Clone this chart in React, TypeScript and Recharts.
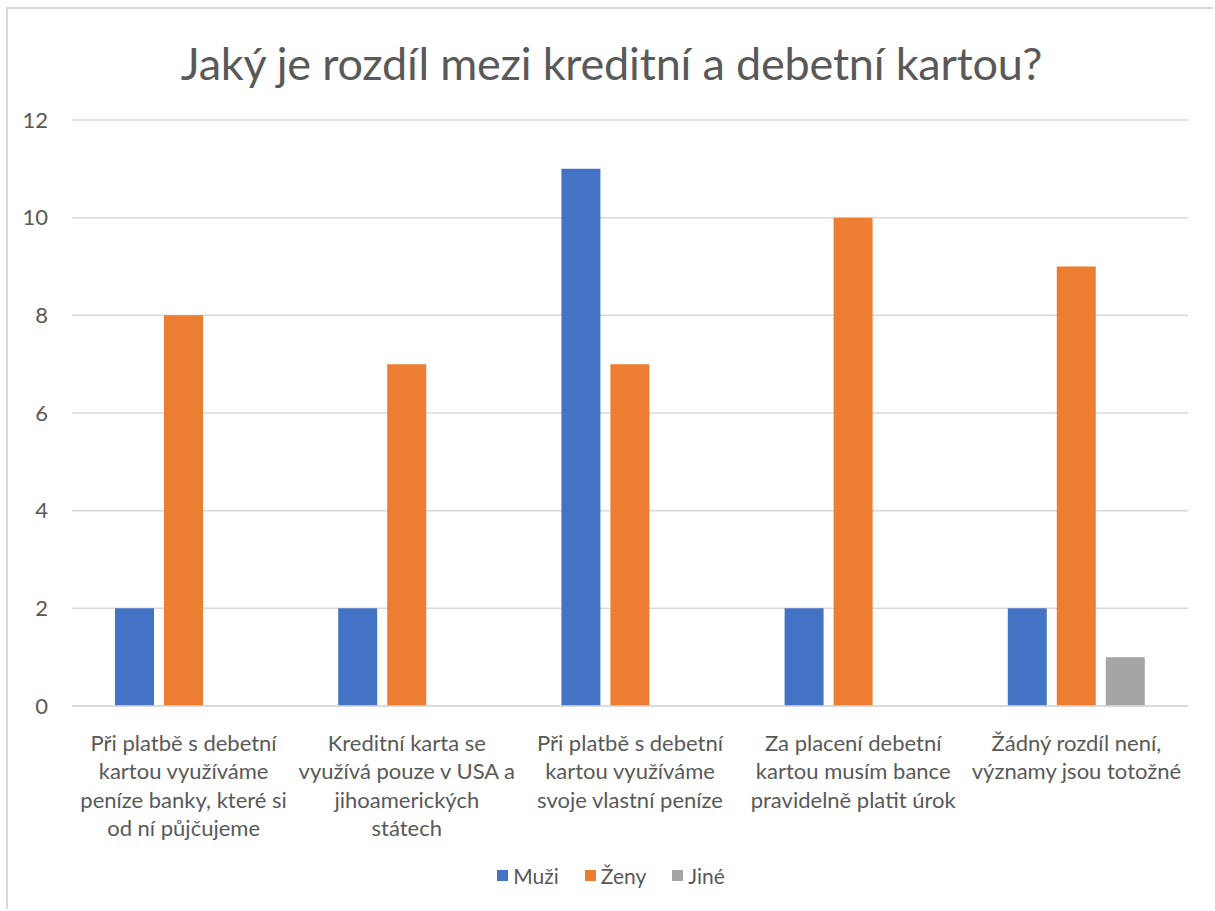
import React, { useEffect } from "react";
import { BarChart, Bar, XAxis, YAxis, CartesianGrid, Legend } from "recharts";

const categories = [
  "Při platbě s debetní kartou využíváme peníze banky, které si od ní půjčujeme",
  "Kreditní karta se využívá pouze v USA a jihoamerických státech",
  "Při platbě s debetní kartou využíváme svoje vlastní peníze",
  "Za placení debetní kartou musím bance pravidelně platit úrok",
  "Žádný rozdíl není, významy jsou totožné",
];
const categoryLines = [
  ["Při platbě s debetní", "kartou využíváme", "peníze banky, které si", "od ní půjčujeme"],
  ["Kreditní karta se", "využívá pouze v USA a", "jihoamerických", "státech"],
  ["Při platbě s debetní", "kartou využíváme", "svoje vlastní peníze"],
  ["Za placení debetní", "kartou musím bance", "pravidelně platit úrok"],
  ["Žádný rozdíl není,", "významy jsou totožné"],
];
const muzi = [2, 2, 11, 2, 2];
const zeny = [8, 7, 7, 10, 9];
const jine = [0, 0, 0, 0, 1];
const yTicks = [0, 2, 4, 6, 8, 10, 12];
const title = "Jaký je rozdíl mezi kreditní a debetní kartou?";

const seriesNames = ["Muži", "Ženy", "Jiné"];
const colors = ["#4472C4", "#ED7D31", "#A5A5A5"];

const data = categories.map((c, i) => ({
  cat: c,
  muzi: muzi[i],
  zeny: zeny[i],
  jine: jine[i],
}));

const FONT = "Lato, 'Open Sans', sans-serif";
const TEXT = "#595959";

const XTick = (props: any) => {
  const { x, y, payload } = props;
  const idx = categories.indexOf(payload.value);
  const lines = categoryLines[idx] || [payload.value];
  return (
    <g transform={`translate(${x},${y})`}>
      <text textAnchor="middle" fill={TEXT} fontSize={22} fontFamily={FONT}>
        {lines.map((l, i) => (
          <tspan key={i} x={0} y={37 + i * 28.3}>
            {l}
          </tspan>
        ))}
      </text>
    </g>
  );
};

const LegendContent = () => (
  <div
    style={{
      display: "flex",
      justifyContent: "center",
      alignItems: "center",
      fontFamily: FONT,
      fontSize: 21,
      color: TEXT,
      height: 40,
      paddingLeft: 26,
      marginTop: -3,
    }}
  >
    {seriesNames.map((n, i) => (
      <div key={n} style={{ display: "flex", alignItems: "center", marginLeft: i === 0 ? 0 : 26 }}>
        <div style={{ width: 11, height: 11, background: colors[i], marginRight: 5 }} />
        <span>{n}</span>
      </div>
    ))}
  </div>
);

export default function App() {
  useEffect(() => {
    document.documentElement.style.overflow = "hidden";
    document.body.style.overflow = "hidden";
  }, []);
  return (
    <div
      style={{
        position: "absolute",
        left: 6,
        top: 7,
        width: 1205,
        height: 900,
        borderTop: "2px solid #d9d9d9",
        borderLeft: "2px solid #d9d9d9",
        background: "#fff",
        overflow: "hidden",
      }}
    >
      <div
        style={{
          position: "absolute",
          left: 0,
          top: 27,
          width: 1207,
          textAlign: "center",
          fontFamily: FONT,
          fontSize: 45,
          color: TEXT,
          whiteSpace: "nowrap",
          letterSpacing: -0.2,
        }}
      >
        {title}
      </div>
      <BarChart
        width={1207}
        height={902}
        data={data}
        margin={{ top: 111, right: 27, left: 0, bottom: 13 }}
        barSize={39}
        barGap={10}
      >
        <CartesianGrid vertical={false} stroke="#d9d9d9" strokeWidth={1.5} />
        <XAxis
          dataKey="cat"
          height={152}
          interval={0}
          tickLine={false}
          axisLine={{ stroke: "#d9d9d9", strokeWidth: 1.5 }}
          tick={<XTick />}
        />
        <YAxis
          width={64}
          domain={[0, 12]}
          ticks={yTicks}
          tickLine={false}
          axisLine={false}
          tickSize={0}
          tickMargin={24}
          tick={{ fill: TEXT, fontSize: 22, fontFamily: FONT }}
        />
        <Legend verticalAlign="bottom" height={40} content={<LegendContent />} />
        <Bar dataKey="muzi" name={seriesNames[0]} fill={colors[0]} isAnimationActive={false} />
        <Bar dataKey="zeny" name={seriesNames[1]} fill={colors[1]} isAnimationActive={false} />
        <Bar dataKey="jine" name={seriesNames[2]} fill={colors[2]} isAnimationActive={false} />
      </BarChart>
    </div>
  );
}
